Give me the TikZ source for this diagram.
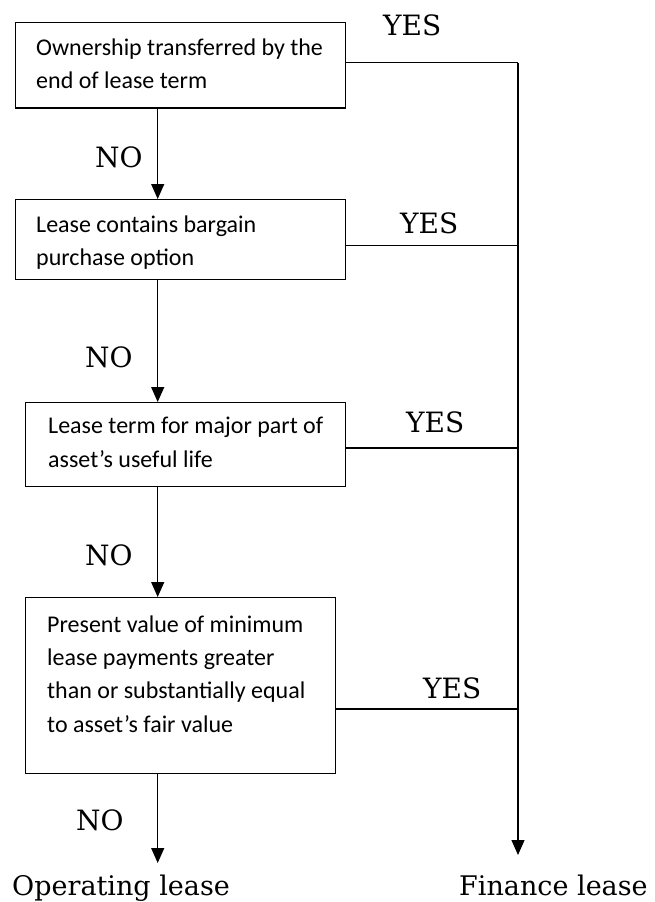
\documentclass[tikz,border=0pt]{standalone}
\usepackage{fontspec}
\setmainfont{Carlito}
\newfontfamily\lblfont{DejaVu Serif}
\usetikzlibrary{arrows.meta}
\begin{document}
\begin{tikzpicture}[x=1pt,y=-1pt,
  boxst/.style={draw,line width=1.3pt,rectangle,inner sep=0pt,anchor=north west},
  txt/.style={anchor=north west,align=left,inner sep=0pt,font=\fontsize{24}{33.3}\selectfont},
  lbl/.style={anchor=base west,inner sep=0pt,font=\lblfont\fontsize{28}{30}\selectfont},
  endlbl/.style={anchor=base west,inner sep=0pt,font=\lblfont\fontsize{27}{30}\selectfont},
  conn/.style={line width=1.2pt},
  arr/.style={conn,-{Triangle[length=15pt,width=13pt]}}]
\useasboundingbox (0,0) rectangle (654,902);

% boxes
\node[boxst,minimum width=330pt,minimum height=85.6pt] (b1) at (15,21.7) {};
\node[boxst,minimum width=330pt,minimum height=80pt] (b2) at (15,199) {};
\node[boxst,minimum width=320pt,minimum height=84pt] (b3) at (25,402) {};
\node[boxst,minimum width=310pt,minimum height=176pt] (b4) at (25,597) {};

% box texts
\node[txt] (t1) at (36,31) {\rule{0pt}{24pt}Ownership transferred by the\\end of lease term};
\node[txt] (t2) at (36,208) {\rule{0pt}{24pt}Lease contains bargain\\purchase option};
\node[txt] (t3) at (48,409.5) {\rule{0pt}{24pt}Lease term for major part of\\asset’s useful life};
\node[txt] (t4) at (47,608) {\rule{0pt}{24pt}Present value of minimum\\lease payments greater\\than or substantially equal\\to asset’s fair value};

% coordinates
\coordinate (ax) at (157.7,0);
\coordinate (j1) at (518,62.7);
\coordinate (j2) at (518,245.7);
\coordinate (j3) at (518,448);
\coordinate (j4) at (518,709);
\coordinate (fe) at (518,855);
\coordinate (oe) at (157.7,863);

% NO arrows
\draw[arr] (b1.south -| ax) -- (b2.north -| ax);
\draw[arr] (b2.south -| ax) -- (b3.north -| ax);
\draw[arr] (b3.south -| ax) -- (b4.north -| ax);
\draw[arr] (b4.south -| ax) -- (oe);

% YES lines
\draw[conn] (b1.east |- j1) -- (j1);
\draw[conn] (b2.east |- j2) -- (j2);
\draw[conn] (b3.east |- j3) -- (j3);
\draw[conn] (b4.east |- j4) -- (j4);
\draw[arr] (j1) -- (fe);

% labels
\node[lbl] (y1) at (383,35) {YES};
\node[lbl] (y2) at (400,233) {YES};
\node[lbl] (y3) at (406,432) {YES};
\node[lbl] (y4) at (423,698) {YES};
\node[lbl] (n1) at (95,167) {NO};
\node[lbl] (n2) at (85,367) {NO};
\node[lbl] (n3) at (85,565) {NO};
\node[lbl] (n4) at (76,830) {NO};

\node[endlbl] (op) at (12,895) {Operating lease};
\node[endlbl] (fin) at (459,895) {Finance lease};
\end{tikzpicture}
\end{document}
